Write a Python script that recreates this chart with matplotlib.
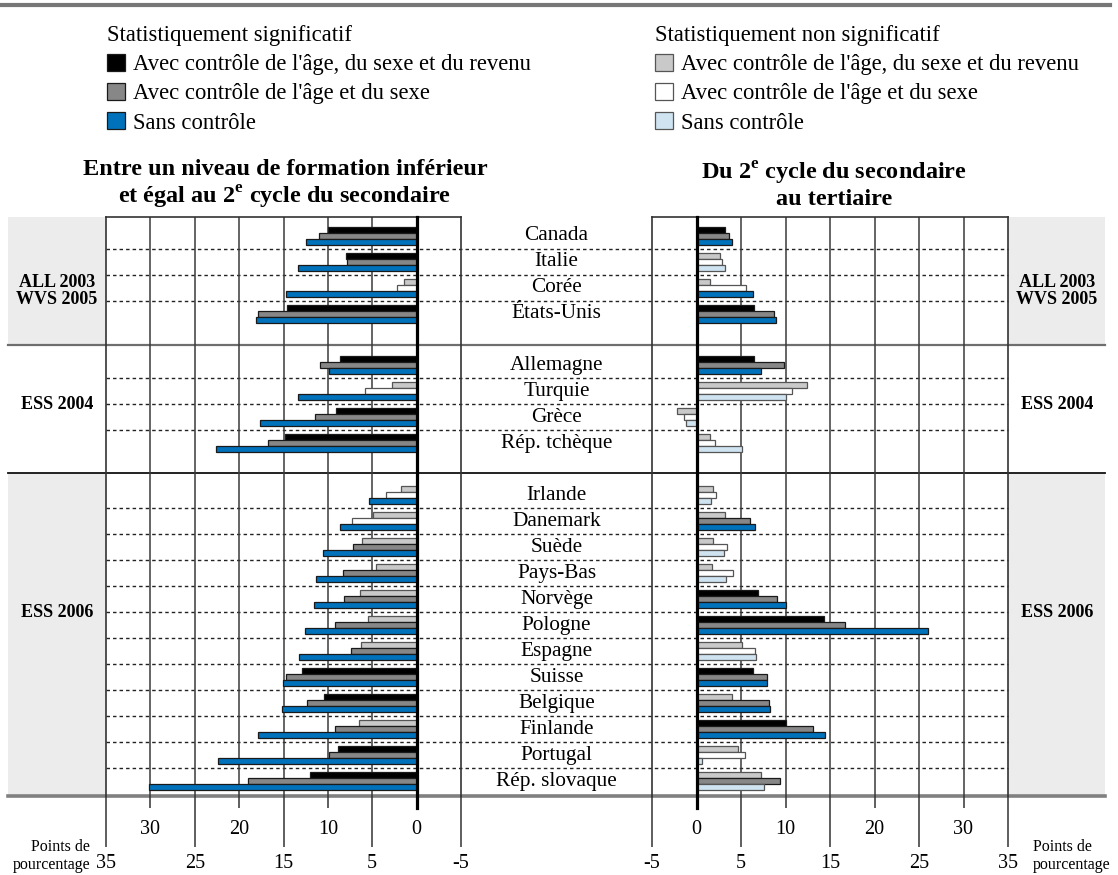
import matplotlib
matplotlib.use('Agg')
import matplotlib.pyplot as plt
from matplotlib.patches import Patch, Rectangle
from matplotlib.lines import Line2D

SERIF = ['Liberation Serif', 'DejaVu Serif']
plt.rcParams['font.family'] = SERIF
plt.rcParams['mathtext.fontset'] = 'custom'
plt.rcParams['mathtext.rm'] = 'Liberation Serif'
plt.rcParams['mathtext.bf'] = 'Liberation Serif:bold'

# données (points de pourcentage)
countries = ['Canada', 'Italie', 'Corée', 'États-Unis',
             'Allemagne', 'Turquie', 'Grèce', 'Rép. tchèque',
             'Irlande', 'Danemark', 'Suède', 'Pays-Bas', 'Norvège', 'Pologne',
             'Espagne', 'Suisse', 'Belgique', 'Finlande', 'Portugal', 'Rép. slovaque']
group_sizes = [4, 4, 12]
group_labels = ['ALL 2003\nWVS 2005', 'ESS 2004', 'ESS 2006']

# niveau inférieur -> 2e cycle du secondaire
left_revenu = [10.0, 8.0, 1.4, 14.6, 8.6, 2.8, 9.1, 14.8, 1.8, 4.9, 6.2, 4.6, 6.4, 5.5, 6.3, 12.9, 10.4, 6.5, 8.9, 12.0]
left_age_sexe = [11.0, 7.9, 2.2, 17.9, 10.9, 5.8, 11.4, 16.8, 3.4, 7.3, 7.2, 8.3, 8.2, 9.2, 7.4, 14.7, 12.3, 9.2, 9.9, 19.0]
left_sans = [12.5, 13.4, 14.7, 18.1, 9.9, 13.4, 17.7, 22.6, 5.4, 8.6, 10.5, 11.3, 11.6, 12.6, 13.2, 15.1, 15.2, 17.9, 22.4, 30.2]
# 1 = statistiquement significatif
left_sig_revenu = [1, 1, 0, 1, 1, 0, 1, 1, 0, 0, 0, 0, 0, 0, 0, 1, 1, 0, 1, 1]
left_sig_age_sexe = [1, 1, 0, 1, 1, 0, 1, 1, 0, 0, 1, 1, 1, 1, 1, 1, 1, 1, 1, 1]
left_sig_sans = [1] * 20

# 2e cycle du secondaire -> tertiaire
right_revenu = [3.2, 2.6, 1.5, 6.5, 6.5, 12.4, -2.2, 1.5, 1.9, 3.2, 1.9, 1.7, 6.9, 14.3, 5.1, 6.3, 4.0, 10.0, 4.7, 7.2]
right_age_sexe = [3.7, 2.9, 5.6, 8.7, 9.8, 10.7, -1.4, 2.1, 2.2, 6.0, 3.4, 4.1, 9.1, 16.7, 6.6, 7.9, 8.2, 13.1, 5.4, 9.4]
right_sans = [4.0, 3.2, 6.3, 8.9, 7.2, 10.1, -1.2, 5.1, 1.6, 6.6, 3.1, 3.3, 10.0, 26.0, 6.7, 7.9, 8.3, 14.4, 0.6, 7.6]
right_sig_revenu = [1, 0, 0, 1, 1, 0, 0, 0, 0, 0, 0, 0, 1, 1, 0, 1, 0, 1, 0, 0]
right_sig_age_sexe = [1, 0, 0, 1, 1, 0, 0, 0, 0, 1, 0, 0, 1, 1, 0, 1, 1, 1, 0, 1]
right_sig_sans = [1, 0, 1, 1, 1, 0, 0, 0, 0, 1, 0, 0, 1, 1, 0, 1, 1, 1, 0, 0]

major_ticks = [35, 25, 15, 5, -5]
minor_ticks = [30, 20, 10, 0]

series_names = ["Avec contrôle de l'âge, du sexe et du revenu",
                "Avec contrôle de l'âge et du sexe",
                "Sans contrôle"]
sig_colors = ['#000000', '#878787', '#0072bb']
nonsig_colors = ['#c9c9c9', '#ffffff', '#cfe3f1']
box_color = '#ebeceb'

W, H = 1118, 875
fig = plt.figure(figsize=(W / 100, H / 100), dpi=100)


def fx(px):
    return px / W


def fy(py):
    return 1 - py / H


top_px, bot_px, row_px = 217, 796, 26
y_max = (bot_px - top_px) / row_px
group_starts = [0.0, 4.904, 9.846]
first_row = [0.72, 5.70, 10.71]

# positions des lignes
y_rows = []
dashes = []
for g, n in enumerate(group_sizes):
    for i in range(n):
        y_rows.append(first_row[g] + i)
        if i < n - 1:
            dashes.append(first_row[g] + i + 0.5)

# fond : cadres gris, séparateurs, noms de pays
bg = fig.add_axes([0, fy(bot_px), 1, fy(top_px) - fy(bot_px)], zorder=0)
bg.set_xlim(0, W)
bg.set_ylim(y_max, 0)
bg.axis('off')
for x0, w in [(8, 98), (1008, 97)]:
    bg.add_patch(Rectangle((x0, 0), w, group_starts[1], fc=box_color, ec='none'))
    bg.add_patch(Rectangle((x0, group_starts[2]), w, y_max - group_starts[2], fc=box_color, ec='none'))
for yd in dashes:
    bg.plot([106, 1008], [yd, yd], color='#222222', lw=1.0, ls=(0, (2.5, 2.2)))
bg.plot([8, 1105], [group_starts[1]] * 2, color='#6e6e6e', lw=1.6)
bg.plot([8, 1105], [group_starts[2]] * 2, color='#111111', lw=1.3)
bg.plot([8, 1105], [y_max, y_max], color='#808080', lw=2.6, clip_on=False)
for yr, name in zip(y_rows, countries):
    bg.text(556.5, yr, name, ha='center', va='center', fontsize=15.3, family=SERIF)
label_y = [2.85, 7.23, 15.23]
for ly, lab in zip(label_y, group_labels):
    for xc in (57, 1057):
        bg.text(xc, ly, lab, ha='center', va='center', fontsize=13, fontweight='bold',
                linespacing=1.05, family=SERIF)


def draw_panel(ax, vals, sigs, xlim):
    ax.set_facecolor('none')
    ax.set_xlim(*xlim)
    ax.set_ylim(y_max, 0)
    for v in [5, 10, 15, 20, 25, 30]:
        ax.axvline(v, color='#3a3a3a', lw=1.1, zorder=1)
    offsets = [-0.23, 0.0, 0.23]
    for k in range(3):
        cols = [sig_colors[k] if s else nonsig_colors[k] for s in sigs[k]]
        edges = ['#1a1a1a' if s else '#555555' for s in sigs[k]]
        ax.barh([y + offsets[k] for y in y_rows], vals[k], height=0.23,
                color=cols, edgecolor=edges, lw=0.9, zorder=3)
    ax.axvline(0, ymin=-0.021, ymax=1, color='black', lw=2.3, zorder=4, clip_on=False)
    for s in ['left', 'right', 'top']:
        ax.spines[s].set_color('#333333')
        ax.spines[s].set_linewidth(1.2)
    ax.spines['bottom'].set_visible(False)
    ax.set_yticks([])
    ax.set_xticks(major_ticks)
    ax.set_xticklabels([str(t) for t in major_ticks], family=SERIF)
    ax.set_xticks(minor_ticks, minor=True)
    ax.set_xticklabels([str(t) for t in minor_ticks], minor=True, family=SERIF)
    ax.tick_params(axis='x', which='major', length=37, width=1.1, color='#333333',
                   pad=5, labelsize=14.5)
    ax.tick_params(axis='x', which='minor', length=8.6, width=1.1, color='#333333',
                   pad=9, labelsize=14.5)


ax_l = fig.add_axes([fx(106), fy(bot_px), fx(461) - fx(106), fy(top_px) - fy(bot_px)], zorder=1)
draw_panel(ax_l, [left_revenu, left_age_sexe, left_sans],
           [left_sig_revenu, left_sig_age_sexe, left_sig_sans], (35, -5))
ax_r = fig.add_axes([fx(652), fy(bot_px), fx(1008) - fx(652), fy(top_px) - fy(bot_px)], zorder=1)
draw_panel(ax_r, [right_revenu, right_age_sexe, right_sans],
           [right_sig_revenu, right_sig_age_sexe, right_sig_sans], (-5, 35))

# titres
fig.text(fx(285), fy(185), 'Entre un niveau de formation inférieur\net égal au 2$^{\\mathbf{e}}$ cycle du secondaire',
         ha='center', va='center', fontsize=17.5, fontweight='bold', linespacing=1.15, family=SERIF)
fig.text(fx(834), fy(185), 'Du 2$^{\\mathbf{e}}$ cycle du secondaire\nau tertiaire',
         ha='center', va='center', fontsize=17.5, fontweight='bold', linespacing=1.15, family=SERIF)

# unités
fig.text(fx(90), fy(856), 'Points de\npourcentage', ha='right', va='center', fontsize=11.5,
         linespacing=1.2, multialignment='right', family=SERIF)
fig.text(fx(1033), fy(856), 'Points de\npourcentage', ha='left', va='center', fontsize=11.5,
         linespacing=1.2, family=SERIF)

# légendes
for x0, title, colors, ec in [(107, 'Statistiquement significatif', sig_colors, '#1a1a1a'),
                              (655, 'Statistiquement non significatif', nonsig_colors, '#555555')]:
    handles = [Patch(facecolor=c, edgecolor=ec, lw=0.9) for c in colors]
    fig.legend(handles, series_names, title=title, loc='upper left',
               bbox_to_anchor=(fx(x0), fy(25)), frameon=False, alignment='left',
               prop={'family': SERIF, 'size': 16.3},
               title_fontproperties={'family': SERIF, 'size': 16.3},
               handlelength=0.8, handleheight=0.8,
               handletextpad=0.36, labelspacing=0.34, borderpad=0, borderaxespad=0)

# ligne du haut
fig.add_artist(Line2D([0, fx(1110)], [fy(5), fy(5)], color='#777777', lw=3))

fig.savefig('out.png', dpi=100)
